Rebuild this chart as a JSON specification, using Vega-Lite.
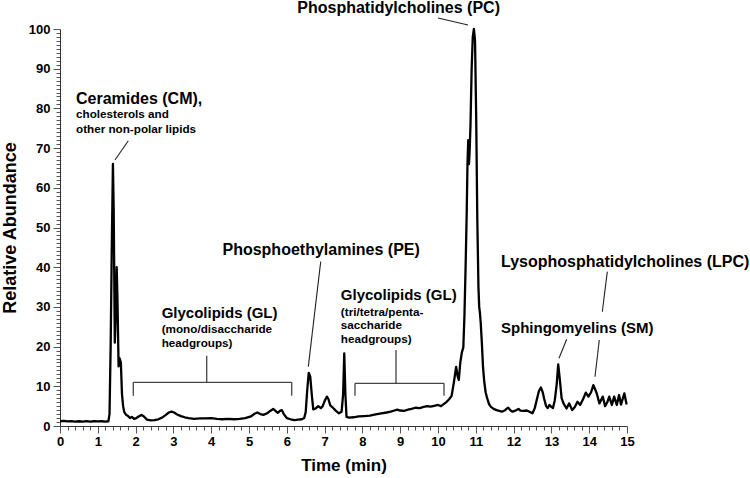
{
  "$schema": "https://vega.github.io/schema/vega-lite/v6.json",
  "width": 567,
  "height": 397,
  "autosize": {"type": "none"},
  "padding": {"left": 60, "top": 29, "right": 123, "bottom": 52},
  "background": "white",
  "config": {
    "view": {"stroke": null},
    "font": "Liberation Sans",
    "axis": {
      "labelFont": "Liberation Sans",
      "labelFontSize": 13,
      "labelFontWeight": "bold",
      "labelColor": "black",
      "titleFont": "Liberation Sans",
      "titleFontWeight": "bold",
      "titleFontSize": 18,
      "titleColor": "black",
      "domainColor": "#333",
      "tickColor": "#555",
      "grid": false,
      "labelOverlap": false,
      "labelFlush": false,
      "labelBound": false
    }
  },
  "datasets": {
    "trace": [
      {"t":0,"v":1.2},{"t":0.1,"v":1.3},{"t":0.2,"v":1.15},{"t":0.3,"v":1.25},{"t":0.4,"v":1.1},{"t":0.5,"v":1.2},{"t":0.6,"v":1.1},{"t":0.7,"v":1.25},{"t":0.8,"v":1.1},{"t":0.9,"v":1.2},{"t":1.0,"v":1.15},{"t":1.1,"v":1.2},{"t":1.2,"v":1.1},{"t":1.28,"v":1.2},
      {"t":1.31,"v":3},{"t":1.34,"v":20},{"t":1.37,"v":45},{"t":1.40,"v":66},{"t":1.42,"v":55},{"t":1.45,"v":21},{"t":1.48,"v":30},{"t":1.50,"v":40},{"t":1.52,"v":32},{"t":1.55,"v":15},{"t":1.58,"v":17},{"t":1.61,"v":16},{"t":1.64,"v":8},{"t":1.67,"v":5},{"t":1.70,"v":3.5},{"t":1.75,"v":2.8},
      {"t":1.80,"v":2.5},{"t":1.85,"v":2.0},{"t":1.90,"v":2.3},{"t":1.96,"v":1.8},{"t":2.02,"v":2.0},{"t":2.08,"v":2.4},{"t":2.16,"v":2.8},{"t":2.22,"v":2.4},{"t":2.30,"v":1.6},{"t":2.40,"v":1.4},{"t":2.50,"v":1.5},{"t":2.60,"v":1.7},{"t":2.70,"v":2.1},{"t":2.80,"v":2.8},{"t":2.88,"v":3.4},{"t":2.95,"v":3.6},{"t":3.02,"v":3.4},{"t":3.10,"v":2.9},{"t":3.20,"v":2.5},{"t":3.30,"v":2.2},{"t":3.40,"v":2.0},{"t":3.55,"v":1.8},{"t":3.70,"v":1.9},{"t":3.85,"v":1.9},{"t":4.00,"v":2.0},{"t":4.15,"v":1.8},{"t":4.30,"v":1.7},{"t":4.45,"v":1.8},{"t":4.60,"v":1.7},{"t":4.75,"v":1.8},{"t":4.90,"v":2.0},
      {"t":5.05,"v":2.4},{"t":5.15,"v":3.1},{"t":5.22,"v":3.4},{"t":5.30,"v":3.0},{"t":5.38,"v":2.8},{"t":5.48,"v":3.2},{"t":5.56,"v":3.8},{"t":5.64,"v":4.3},{"t":5.70,"v":3.8},{"t":5.76,"v":3.3},{"t":5.82,"v":3.8},{"t":5.87,"v":4.0},{"t":5.92,"v":3.0},{"t":6.00,"v":2.0},{"t":6.10,"v":1.7},{"t":6.20,"v":1.5},{"t":6.30,"v":1.6},{"t":6.40,"v":1.7},{"t":6.46,"v":2.0},
      {"t":6.50,"v":3.5},{"t":6.54,"v":9},{"t":6.58,"v":13.4},{"t":6.62,"v":12.5},{"t":6.66,"v":8},{"t":6.70,"v":4.2},{"t":6.76,"v":4.4},{"t":6.83,"v":5.0},{"t":6.90,"v":4.5},{"t":6.95,"v":5.0},{"t":7.01,"v":6.5},{"t":7.06,"v":7.4},{"t":7.10,"v":6.8},{"t":7.15,"v":5.2},{"t":7.22,"v":4.6},{"t":7.30,"v":3.8},{"t":7.38,"v":3.2},{"t":7.45,"v":3.6},{"t":7.49,"v":8},{"t":7.52,"v":18.3},{"t":7.55,"v":8},{"t":7.58,"v":2.3},
      {"t":7.65,"v":2.1},{"t":7.76,"v":2.2},{"t":7.90,"v":2.4},{"t":8.05,"v":2.5},{"t":8.20,"v":2.6},{"t":8.35,"v":2.9},{"t":8.50,"v":3.2},{"t":8.64,"v":3.4},{"t":8.75,"v":3.6},{"t":8.85,"v":3.9},{"t":8.92,"v":4.1},{"t":9.00,"v":3.9},{"t":9.10,"v":3.8},{"t":9.20,"v":4.1},{"t":9.30,"v":4.3},{"t":9.40,"v":4.6},{"t":9.52,"v":4.5},{"t":9.62,"v":4.8},{"t":9.72,"v":5.0},{"t":9.80,"v":4.9},{"t":9.90,"v":5.1},{"t":10.00,"v":5.3},{"t":10.08,"v":5.0},{"t":10.15,"v":5.5},{"t":10.23,"v":6.1},{"t":10.30,"v":6.8},{"t":10.36,"v":7.6},
      {"t":10.42,"v":11},{"t":10.48,"v":14.9},{"t":10.52,"v":12.5},{"t":10.55,"v":11.6},{"t":10.59,"v":16},{"t":10.63,"v":18.5},{"t":10.67,"v":19.8},{"t":10.70,"v":28},{"t":10.73,"v":40},{"t":10.76,"v":54},{"t":10.78,"v":66},{"t":10.80,"v":72},{"t":10.82,"v":66},{"t":10.84,"v":70},{"t":10.86,"v":76},{"t":10.89,"v":90},{"t":10.92,"v":98},{"t":10.95,"v":100},{"t":10.98,"v":97},{"t":11.01,"v":78},{"t":11.04,"v":52},{"t":11.07,"v":35},{"t":11.09,"v":30},{"t":11.11,"v":28.4},{"t":11.13,"v":26},{"t":11.16,"v":21},{"t":11.19,"v":15},{"t":11.22,"v":11.5},{"t":11.26,"v":8.5},{"t":11.30,"v":7},{"t":11.35,"v":5.5},{"t":11.40,"v":4.8},{"t":11.47,"v":4.3},
      {"t":11.55,"v":4.0},{"t":11.62,"v":3.8},{"t":11.69,"v":3.6},{"t":11.76,"v":3.9},{"t":11.82,"v":4.4},{"t":11.86,"v":4.6},{"t":11.91,"v":4.0},{"t":11.97,"v":3.6},{"t":12.03,"v":3.8},{"t":12.09,"v":4.1},{"t":12.13,"v":4.3},{"t":12.18,"v":3.9},{"t":12.26,"v":3.8},{"t":12.35,"v":3.9},{"t":12.42,"v":3.6},{"t":12.50,"v":3.2},{"t":12.56,"v":4.5},{"t":12.61,"v":6.5},{"t":12.67,"v":8.8},{"t":12.72,"v":9.7},{"t":12.77,"v":8.5},{"t":12.81,"v":6.8},{"t":12.86,"v":5.0},{"t":12.90,"v":4.5},{"t":12.95,"v":5.3},{"t":13.00,"v":4.8},{"t":13.04,"v":4.5},{"t":13.09,"v":6.5},{"t":13.14,"v":10.5},{"t":13.18,"v":15.5},{"t":13.22,"v":12},{"t":13.27,"v":7},{"t":13.32,"v":5.7},{"t":13.40,"v":4.4},{"t":13.47,"v":5.7},{"t":13.55,"v":4.0},{"t":13.62,"v":4.8},{"t":13.69,"v":6.1},{"t":13.76,"v":5.3},{"t":13.84,"v":6.8},{"t":13.91,"v":8.4},{"t":13.98,"v":7.4},{"t":14.05,"v":8.5},{"t":14.11,"v":10.3},{"t":14.16,"v":9.2},{"t":14.20,"v":8.2},{"t":14.27,"v":5.7},{"t":14.36,"v":7.4},{"t":14.42,"v":5.0},{"t":14.48,"v":6.0},{"t":14.53,"v":7.4},{"t":14.60,"v":5.3},{"t":14.66,"v":7.4},{"t":14.73,"v":5.3},{"t":14.79,"v":7.8},{"t":14.84,"v":5.4},{"t":14.93,"v":8.2},{"t":14.99,"v":5.4}
    ],
    "pointers": [
      {"t":1.807,"v":71.86,"t2":1.455,"v2":67.0},
      {"t":10.0,"v":102.77,"t2":10.794,"v2":101.0},
      {"t":6.897,"v":41.39,"t2":6.569,"v2":14.94},
      {"t":14.479,"v":38.87,"t2":14.347,"v2":28.79},
      {"t":14.267,"v":21.66,"t2":14.153,"v2":12.42},
      {"t":13.405,"v":21.84,"t2":13.201,"v2":17.05}
    ],
    "brackets": [
      {"t":1.939,"v":11.0,"t2":6.13,"v2":11.0},
      {"t":1.939,"v":11.0,"t2":1.939,"v2":7.63},
      {"t":6.13,"v":11.0,"t2":6.13,"v2":7.63},
      {"t":3.881,"v":11.0,"t2":3.881,"v2":17.71},
      {"t":7.804,"v":10.76,"t2":10.159,"v2":10.76},
      {"t":7.804,"v":10.76,"t2":7.804,"v2":7.63},
      {"t":10.159,"v":10.76,"t2":10.159,"v2":7.63},
      {"t":8.889,"v":10.76,"t2":8.889,"v2":19.14}
    ],
    "bigLeft": [
      {"t":0.423,"v":81.1,"label":"Ceramides (CM),"},
      {"t":11.667,"v":40.13,"label":"Lysophosphatidylcholines (LPC)"}
    ],
    "bigRight": [
      {"t":11.64,"v":104.0,"label":"Phosphatidylcholines (PC)"},
      {"t":9.52,"v":42.95,"label":"Phosphoethylamines (PE)"}
    ],
    "mid": [
      {"t":2.69,"v":27.13,"label":"Glycolipids (GL)"},
      {"t":7.43,"v":31.74,"label":"Glycolipids (GL)"},
      {"t":11.667,"v":23.35,"label":"Sphingomyelins (SM)"}
    ],
    "small": [
      {"t":0.423,"v":77.66,"label":"cholesterols and"},
      {"t":0.423,"v":73.9,"label":"other non-polar lipids"},
      {"t":2.69,"v":23.35,"label":"(mono/disaccharide"},
      {"t":2.69,"v":19.97,"label":"headgroups)"},
      {"t":7.43,"v":27.78,"label":"(tri/tetra/penta-"},
      {"t":7.43,"v":24.43,"label":"saccharide"},
      {"t":7.43,"v":20.98,"label":"headgroups)"}
    ]
  },
  "encoding": {
    "x": {
      "field": "t", "type": "quantitative",
      "scale": {"domain": [0, 15], "nice": false, "zero": false},
      "axis": {
        "title": "Time (min)",
        "titleFontSize": 17,
        "titlePadding": 9,
        "values": [0,0.2,0.4,0.6,0.8,1,1.2,1.4,1.6,1.8,2,2.2,2.4,2.6,2.8,3,3.2,3.4,3.6,3.8,4,4.2,4.4,4.6,4.8,5,5.2,5.4,5.6,5.8,6,6.2,6.4,6.6,6.8,7,7.2,7.4,7.6,7.8,8,8.2,8.4,8.6,8.8,9,9.2,9.4,9.6,9.8,10,10.2,10.4,10.6,10.8,11,11.2,11.4,11.6,11.8,12,12.2,12.4,12.6,12.8,13,13.2,13.4,13.6,13.8,14,14.2,14.4,14.6,14.8,15],
        "labelExpr": "datum.value % 1 == 0 ? format(datum.value, 'd') : ''",
        "tickSize": {"condition": {"test": "datum.value % 1 == 0", "value": 7}, "value": 4},
        "labelPadding": 2
      }
    },
    "y": {
      "field": "v", "type": "quantitative",
      "scale": {"domain": [0, 100], "nice": false},
      "axis": {
        "title": "Relative Abundance",
        "titleX": -45,
        "titleBaseline": "alphabetic",
        "values": [0,1,2,3,4,5,6,7,8,9,10,11,12,13,14,15,16,17,18,19,20,21,22,23,24,25,26,27,28,29,30,31,32,33,34,35,36,37,38,39,40,41,42,43,44,45,46,47,48,49,50,51,52,53,54,55,56,57,58,59,60,61,62,63,64,65,66,67,68,69,70,71,72,73,74,75,76,77,78,79,80,81,82,83,84,85,86,87,88,89,90,91,92,93,94,95,96,97,98,99,100],
        "labelExpr": "datum.value % 10 == 0 ? format(datum.value, 'd') : ''",
        "tickSize": {"condition": {"test": "datum.value % 10 == 0", "value": 7}, "value": 4},
        "labelPadding": 3
      }
    }
  },
  "layer": [
    {
      "data": {"name": "trace"},
      "mark": {"type": "line", "color": "black", "strokeWidth": 2.3, "strokeJoin": "round"}
    },
    {
      "data": {"name": "brackets"},
      "mark": {"type": "rule", "color": "#444", "strokeWidth": 1.3},
      "encoding": {
        "x2": {"field": "t2"},
        "y2": {"field": "v2"}
      }
    },
    {
      "data": {"name": "pointers"},
      "mark": {"type": "rule", "color": "#222", "strokeWidth": 1.1},
      "encoding": {
        "x2": {"field": "t2"},
        "y2": {"field": "v2"}
      }
    },
    {
      "data": {"name": "bigLeft"},
      "mark": {"type": "text", "align": "left", "baseline": "alphabetic", "fontSize": 16, "fontWeight": "bold", "font": "Liberation Sans", "color": "black"},
      "encoding": {"text": {"field": "label"}}
    },
    {
      "data": {"name": "bigRight"},
      "mark": {"type": "text", "align": "right", "baseline": "alphabetic", "fontSize": 16, "fontWeight": "bold", "font": "Liberation Sans", "color": "black"},
      "encoding": {"text": {"field": "label"}}
    },
    {
      "data": {"name": "mid"},
      "mark": {"type": "text", "align": "left", "baseline": "alphabetic", "fontSize": 15, "fontWeight": "bold", "font": "Liberation Sans", "color": "black"},
      "encoding": {"text": {"field": "label"}}
    },
    {
      "data": {"name": "small"},
      "mark": {"type": "text", "align": "left", "baseline": "alphabetic", "fontSize": 11.7, "fontWeight": "bold", "font": "Liberation Sans", "color": "black"},
      "encoding": {"text": {"field": "label"}}
    }
  ]
}
